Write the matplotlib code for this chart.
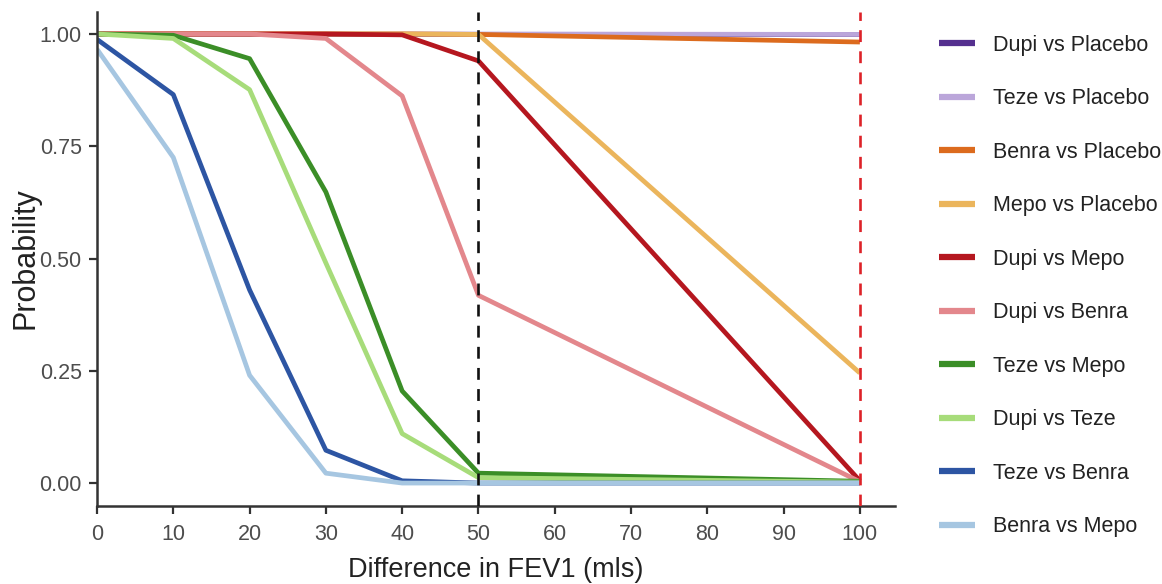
import matplotlib
matplotlib.use("Agg")
import matplotlib.pyplot as plt
from matplotlib import font_manager

# Difference in FEV1 (mls) thresholds
fev1_diff = [0, 10, 20, 30, 40, 50, 100]

# Probability that the treatment difference exceeds each threshold
dupi_vs_placebo = [1.00, 1.00, 1.00, 1.00, 1.00, 1.00, 1.00]
teze_vs_placebo = [1.00, 1.00, 1.00, 1.00, 1.00, 1.00, 0.999]
benra_vs_placebo = [1.00, 1.00, 1.00, 1.00, 1.00, 0.999, 0.982]
mepo_vs_placebo = [1.00, 1.00, 1.00, 1.00, 1.00, 0.999, 0.245]
dupi_vs_mepo = [1.00, 1.00, 1.00, 1.00, 0.998, 0.940, 0.005]
dupi_vs_benra = [1.00, 1.00, 1.00, 0.990, 0.862, 0.418, 0.003]
teze_vs_mepo = [1.00, 0.997, 0.945, 0.648, 0.205, 0.022, 0.004]
dupi_vs_teze = [1.00, 0.990, 0.876, 0.490, 0.110, 0.012, 0.002]
teze_vs_benra = [0.988, 0.865, 0.430, 0.073, 0.005, 0.000, 0.000]
benra_vs_mepo = [0.966, 0.725, 0.240, 0.022, 0.000, 0.000, 0.000]

labels = ["Dupi vs Placebo", "Teze vs Placebo", "Benra vs Placebo",
          "Mepo vs Placebo", "Dupi vs Mepo", "Dupi vs Benra",
          "Teze vs Mepo", "Dupi vs Teze", "Teze vs Benra", "Benra vs Mepo"]
series = [dupi_vs_placebo, teze_vs_placebo, benra_vs_placebo,
          mepo_vs_placebo, dupi_vs_mepo, dupi_vs_benra,
          teze_vs_mepo, dupi_vs_teze, teze_vs_benra, benra_vs_mepo]
colors = ["#55308f", "#bba6da", "#dc6b1e", "#ebb55c", "#b5171f",
          "#e3878c", "#3b8e27", "#a7dc7a", "#2d55a3", "#a6c6e1"]

# reference thresholds
ref_lines = [50, 100]
ref_colors = ["#111111", "#dd2228"]

available = {f.name for f in font_manager.fontManager.ttflist}
family = "Liberation Sans" if "Liberation Sans" in available else "DejaVu Sans"
plt.rcParams["font.family"] = [family, "DejaVu Sans"]

fig = plt.figure(figsize=(11.62, 5.84), dpi=100)
ax = fig.add_axes([0.0835, 0.1344, 0.6867, 0.8459])

for vals, lab, col in zip(series, labels, colors):
    ax.plot(fev1_diff, vals, color=col, lw=3.4, label=lab,
            solid_joinstyle="round", solid_capstyle="butt")

for xv, c in zip(ref_lines, ref_colors):
    ax.axvline(xv, color=c, lw=1.9, linestyle=(0, (4.5, 3.5)), zorder=5)

ax.set_xlim(0, 104.6)
ax.set_ylim(-0.05, 1.05)
ax.set_xticks(fev1_diff[:6] + [60, 70, 80, 90, 100])
ax.set_yticks([0, 0.25, 0.5, 0.75, 1.0])
ax.set_yticklabels(["0.00", "0.25", "0.50", "0.75", "1.00"])

for side in ["top", "right"]:
    ax.spines[side].set_visible(False)
for side in ["left", "bottom"]:
    ax.spines[side].set_color("#333333")
    ax.spines[side].set_linewidth(1.8)

ax.tick_params(axis="both", colors="#333333", length=6, width=1.6,
               labelcolor="#4d4d4d", labelsize=15.5, pad=5)
ax.tick_params(axis="x", pad=7)

ax.set_xlabel("Difference in FEV1 (mls)", fontsize=19.5, color="#222222",
              labelpad=9)
ax.set_ylabel("Probability", fontsize=22, color="#222222")
ax.yaxis.set_label_coords(-0.071, 0.5)

leg = ax.legend(loc="upper left", bbox_to_anchor=(0.801, 0.955),
                bbox_transform=fig.transFigure, frameon=False,
                fontsize=15.5, handlelength=1.65, handletextpad=0.85,
                labelspacing=1.51, borderaxespad=0)
for line in leg.get_lines():
    line.set_linewidth(4.5)
for t in leg.get_texts():
    t.set_color("#222222")

fig.savefig("out.png", dpi=100, facecolor="white")
